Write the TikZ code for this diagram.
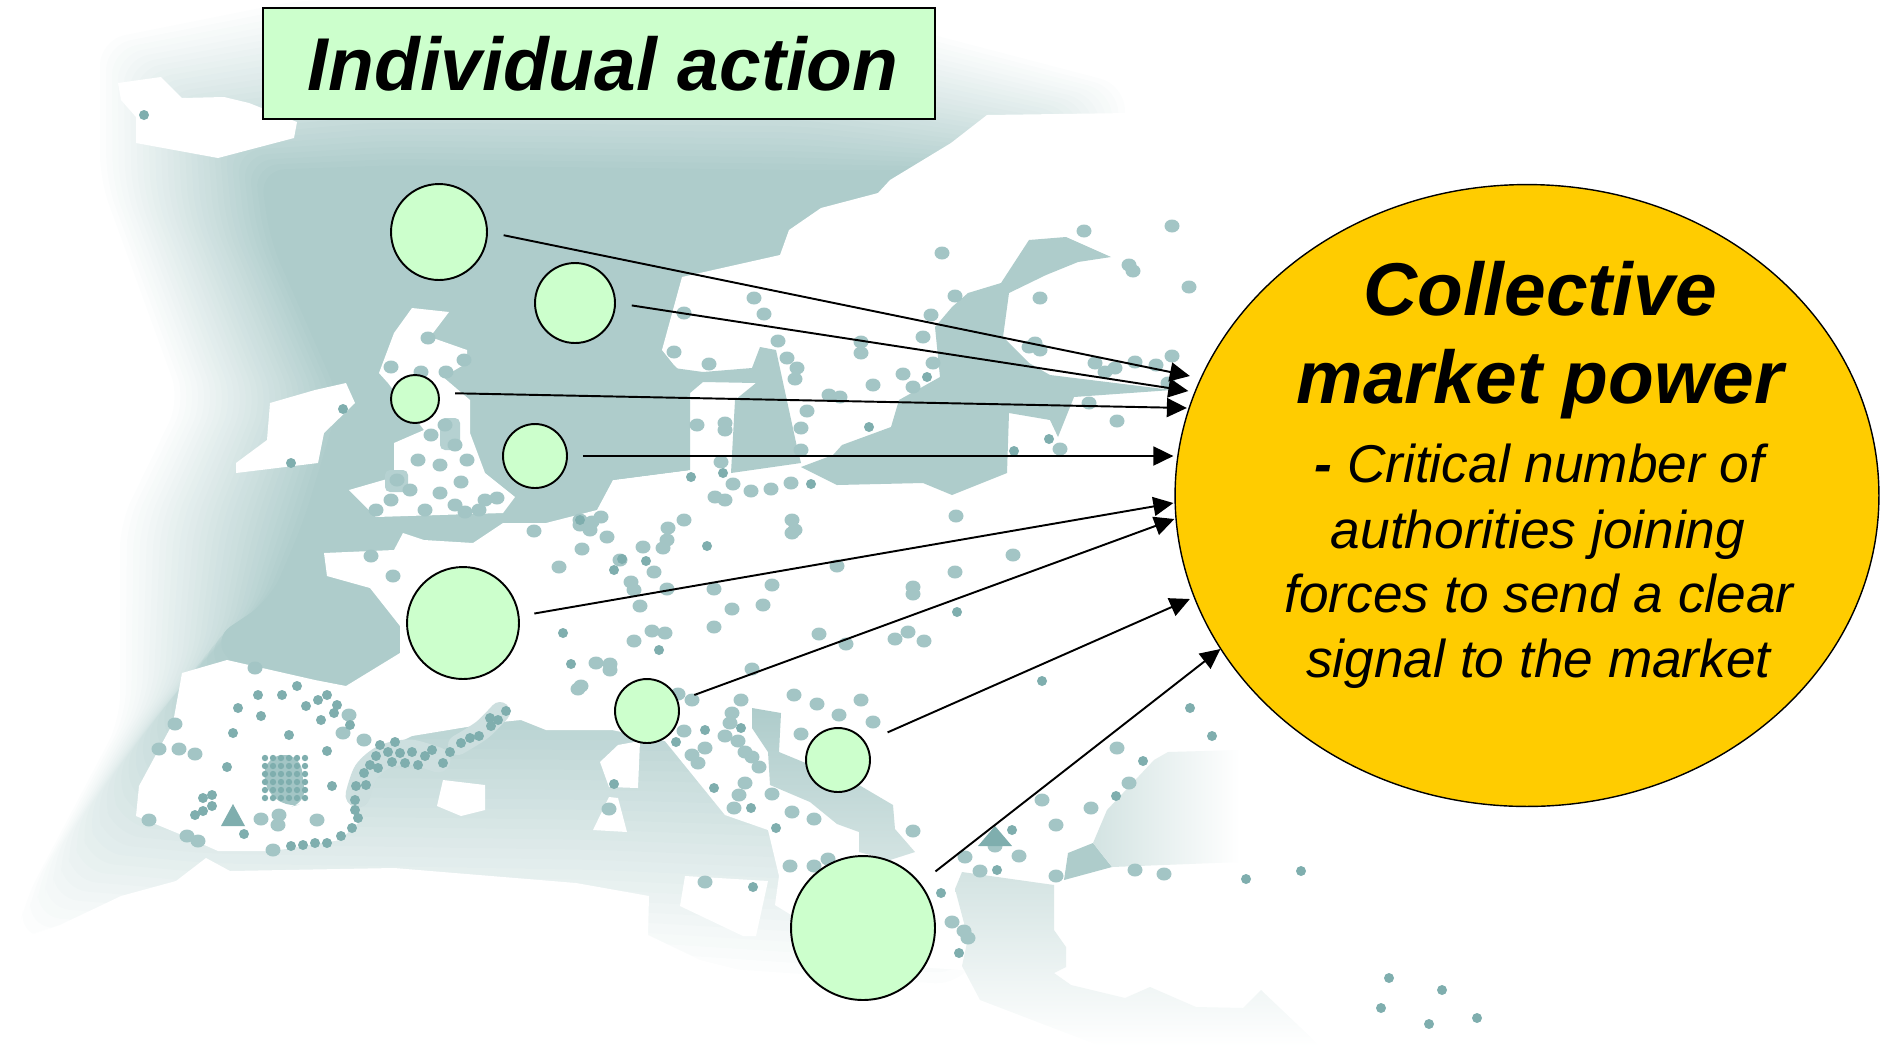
\documentclass[tikz,border=0pt]{standalone}
\usepackage{fontspec}
\setmainfont{Liberation Sans}
\usetikzlibrary{calc,positioning,shapes.geometric,arrows.meta}
\definecolor{seablue}{HTML}{AECCCB}
\definecolor{seapale}{HTML}{D3E3E2}
\definecolor{dotlight}{HTML}{A3C5C5}
\definecolor{dotdark}{HTML}{7FAEAE}
\definecolor{palegreen}{HTML}{CCFFCC}
\definecolor{marketgold}{HTML}{FFCC00}
\tikzset{
  land/.style={fill=white},
  authority/.style={circle,draw=black,line width=1.1pt,fill=palegreen,inner sep=0pt},
  pull/.style={draw=black,line width=1.1pt,-{Triangle[length=0.4cm,width=0.38cm]}},
  headtext/.style={font=\fontsize{42.6}{50}\selectfont\bfseries\itshape,anchor=base,inner sep=0pt},
  bodytext/.style={font=\fontsize{30.3}{36}\selectfont\itshape,anchor=base,inner sep=0pt}
}
\begin{document}
\begin{tikzpicture}[x=0.02cm,y=-0.02cm]
       \useasboundingbox (0,0) rectangle (1902,1046);
       % sea, outer contour to inner contour
       \foreach \n/\ox/\oy/\ix/\iy in {1/100/40/260/170,2/300/0/400/165,3/800/0/800/170,4/1125/85/950/170,5/1125/300/950/300,
         6/1125/700/950/700,7/960/985/960/690,8/600/960/600/690,9/210/950/210/690,10/18/935/260/690,11/25/900/210/640,
         12/120/720/270/600,13/120/523/303/523,14/180/400/340/400,15/100/180/270/240}{
         \coordinate (o\n) at (\ox,\oy);
         \coordinate (i\n) at (\ix,\iy);
       }
       \foreach \k in {1,...,28}{
         \pgfmathsetmacro\lerp{(\k-1)/27}
         \pgfmathsetmacro\alp{1/(29-\k)}
         \fill[seablue,opacity=\alp,rounded corners=0.5cm] ($(o1)!\lerp!(i1)$) \foreach \n in {2,...,15}{ -- ($(o\n)!\lerp!(i\n)$) } -- cycle;
       }
       % land
       \fill[land] (118,83) -- (161,77) -- (182,98) -- (224,97) -- (249,103) -- (297,122) -- (294,138) -- (218,158) -- (136,143) -- (136,117) -- (121,100) -- cycle;
       \fill[land] (270,403) -- (315,390) -- (346,383) -- (355,403) -- (324,433) -- (318,463) -- (236,473) -- (236,463) -- (267,440) -- cycle;
       \fill[land] (412,308) -- (449,312) -- (430,337) -- (467,350) -- (467,363) -- (443,377) -- (470,400) -- (470,433) -- (485,473) -- (515,497) -- (503,513) -- (376,517) -- (349,490) -- (394,477) -- (394,443) -- (424,430) -- (388,383) -- (379,373) -- (394,333) -- cycle;
       \fill[land] (1130,113) -- (987,115) -- (951,143) -- (890,180) -- (878,193) -- (821,208) -- (789,230) -- (780,255) -- (682,277) -- (662,350) -- (674,365) -- (690,380) -- (690,470)
         -- (613,480) -- (597,510) -- (546,523) -- (503,523) -- (473,543) -- (424,540) -- (403,533) -- (394,550) -- (324,553) -- (327,576) -- (370,588) -- (400,626) -- (400,653)
         -- (346,686) -- (315,680) -- (227,660) -- (182,673) -- (173,723) -- (139,786) -- (136,816) -- (182,835) -- (218,851) -- (273,851) -- (340,840) -- (358,823) -- (358,783)
         -- (376,753) -- (412,736) -- (491,723) -- (521,720) -- (546,730) -- (612,730) -- (665,741) -- (725,815) -- (768,830) -- (779,876) -- (775,905) -- (840,945) -- (890,965)
         -- (962,970) -- (1070,990) -- (1125,1000) -- (1150,989) -- (1196,1009) -- (1243,1010) -- (1270,985) -- (1300,800) -- (1300,113) -- cycle;
       \fill[land] (618,745) -- (640,741) -- (638,788) -- (609,787) -- (600,762) -- cycle;
       \fill[land] (609,797) -- (618,798) -- (627,832) -- (593,830) -- cycle;
       \fill[land] (443,780) -- (485,785) -- (485,810) -- (461,816) -- (437,806) -- cycle;
       \fill[land] (206,858) -- (230,871) -- (394,868) -- (576,883) -- (649,896) -- (648,935) -- (700,960) -- (860,1000) -- (860,1046) -- (0,1046) -- (0,945) -- (60,925) -- (121,896) -- (176,881) -- cycle;
       \fill[land] (685,876) -- (768,881) -- (756,936) -- (743,936) -- (680,906) -- cycle;
       % inland seas
       \fill[seablue] (690,470) -- (613,480) -- (674,368) -- (703,372) -- (752,368) -- (760,347) -- (776,350) -- (797,447) -- (801,463) -- (731,473) -- (735,400) -- (756,383) -- (703,382) -- (690,393) -- cycle;
       \fill[seablue] (1029,240) -- (1066,237) -- (1111,257) -- (1078,262) -- (1046,275) -- (1009,293) -- (1003,337) -- (1029,363) -- (1050,375) -- (1172,390) -- (1074,397) -- (1058,437) -- (1050,420)
         -- (1009,413) -- (1007,473) -- (952,495) -- (923,483) -- (837,485) -- (801,467) -- (833,455) -- (842,445) -- (891,427) -- (899,400) -- (940,377) -- (935,327) -- (952,307) -- (968,293) -- (1001,283) -- cycle;
       \shade[top color=seablue,bottom color=seapale] (752,708) -- (781,713) -- (779,752) -- (859,785) -- (893,805) -- (895,829) -- (915,852) -- (890,860) -- (859,852) -- (859,832) -- (837,824) -- (810,802) -- (770,785) -- (768,752) -- (752,728) -- cycle;
       \shade[top color=seapale,bottom color=white] (962,872) -- (1054,885) -- (1054,930) -- (1066,947) -- (1066,967) -- (1054,973) -- (1071,985) -- (1125,998) -- (1150,987) -- (1196,1007) -- (1243,1008) -- (1261,990) -- (1320,1046) -- (1100,1046) -- (980,1000) -- (962,966) -- (968,938) -- (955,889) -- cycle;
       \fill[seablue] (1068,853) -- (1093,843) -- (1112,867) -- (1064,880) -- cycle;
       \shade[left color=seapale,right color=white] (1093,843) -- (1107,810) -- (1154,760) -- (1168,752) -- (1240,750) -- (1240,862) -- (1112,867) -- cycle;
       % towns
       \draw[dotlight!55,line width=0.5cm,line cap=round] plot[smooth] coordinates {(358,795) (366,772) (384,757) (410,752) (438,760)};
       \draw[dotlight!55,line width=0.4cm,line cap=round] plot[smooth] coordinates {(458,745) (482,730) (500,712)};
       \fill[dotlight!80,rounded corners=0.1cm] (440,418) rectangle (460,450);
       \fill[dotlight!80,rounded corners=0.1cm] (385,470) rectangle (408,492);
       \foreach \x/\y in {684/313,674/352,709/364,754/298,764/314,778/341,787/358,797/368,795/379,861/342,861/353,923/337,931/315,955/296,942/253,1084/231,1172/226,1129/265,1133/271,1189/287,1040/298,1029/347,1040/350,1035/343,
         1095/363,1105/372,1115/368,1135/362,1156/365,1172/356,1168/383,1089/403,1117/421,1060/449,933/363,903/374,913/387,873/385,829/395,840/397,807/411,801/428,801/450,
         697/425,725/423,725/430,721/462,733/484,751/491,771/489,791/483,715/497,725/500,956/516,684/520,668/528,601/517,592/522,580/520,590/530,792/520,795/530,792/533,580/525,607/537,667/540,663/548,582/549,643/547,
         620/560,654/572,631/582,634/590,667/589,714/589,772/585,837/566,955/572,913/587,913/594,1013/555,640/606,732/609,763/605,652/631,665/633,714/627,634/641,819/634,895/639,908/632,924/641,846/644,
         596/663,610/664,610/670,752/669,578/689,581/686,678/694,692/700,741/700,794/695,817/704,861/700,732/713,839/715,873/722,730/723,684/731,801/734,725/736,738/741,705/748,745/752,692/755,752/757,698/763,759/767,
         1117/748,1129/783,1042/800,1091/808,1056/825,609/809,745/783,739/795,772/794,734/808,792/812,814/819,913/831,995/846,965/857,1019/856,980/871,790/866,814/866,828/859,1056/876,1135/870,1164/874,705/882,
         952/922,964/931,968/938,
         371/556,393/576,255/668,534/531,559/567,
         175/724,349/715,343/733,364/740,159/749,179/749,195/754,149/820,187/836,198/841,273/850,279/815,261/819,278/825,317/820,
         428/338,464/360,391/367,421/372,446/372,431/435,418/460,467/460,461/482,376/510,440/493,485/500,497/498,479/510,397/480,410/490,440/465,455/445,445/425,
         391/500,425/510,455/505,465/512}{
         \fill[dotlight] (\x,\y) circle[x radius=7.5,y radius=6.5];
       }
       \foreach \x/\y in {723/473,691/477,811/484,622/559,646/561,614/570,659/650,571/664,563/633,707/546,957/612,705/730,741/728,676/742,714/788,751/808,776/828,869/427,927/377,1014/451,1049/439,
         1190/708,1212/736,1143/761,1116/796,1012/830,997/870,941/893,959/953,1246/879,1301/871,1389/978,1442/990,1381/1008,1429/1024,1477/1018,1042/681,144/115,343/409,291/463,753/887,614/784,
         258/695,282/695,297/686,238/708,306/706,261/716,289/735,233/733,318/700,327/695,337/705,334/713,321/720,350/725,327/751,227/767,332/786,356/786,244/834,
         291/846,303/845,315/843,327/843,341/836,352/828,358/818,355/810,355/800,364/773,370/765,376/756,388/752,400/753,412/752,425/756,443/763,461/743,470/738,479/736,491/726,506/711,380/745,395/742,
         366/785,378/768,392/762,405/763,418/765,432/750,450/752,490/718,498/720,
         212/795,203/798,212/806,203/811,195/815,580/520}{
         \fill[dotdark] (\x,\y) circle[radius=5];
       }
       \fill[dotlight,rounded corners=0.3cm] (268,755) -- (300,755) -- (306,803) -- (285,808) -- (262,785) -- cycle;
       \foreach \x in {265,273,...,305}{
         \foreach \y in {758,766,...,802}{
           \fill[dotdark] (\x,\y) circle[radius=3.2];
         }
       }
       \fill[dotdark] (233,804) -- (245,826) -- (221,826) -- cycle;
       \fill[dotdark] (995,826) -- (1012,846) -- (978,846) -- cycle;
       % diagram
       \node[draw=black,line width=1.1pt,fill=palegreen,minimum width=13.44cm,minimum height=2.22cm,inner sep=0pt,font=\fontsize{42.6}{50}\selectfont\bfseries\itshape] (actionbox) at (599,63.5) {\hspace*{0.16cm}Individual action};
       \node[authority,minimum size=1.92cm] (nation1) at (439,232) {};
       \node[authority,minimum size=1.6cm] (nation2) at (575,303) {};
       \node[authority,minimum size=0.96cm] (nation3) at (415,399) {};
       \node[authority,minimum size=1.28cm] (nation4) at (535,456) {};
       \node[authority,minimum size=2.24cm] (nation5) at (463,623) {};
       \node[authority,minimum size=1.28cm] (nation6) at (647,711) {};
       \node[authority,minimum size=1.28cm] (nation7) at (838,760) {};
       \node[authority,minimum size=2.88cm] (nation8) at (863,928) {};
       \node[ellipse,draw=black,line width=0.8pt,fill=marketgold,minimum width=14.08cm,minimum height=12.44cm,inner sep=0pt] (market) at (1527,495.5) {};
       \draw[pull,shorten <=0.32cm] (nation1.0) -- ($(market.west)+(15.5,-119.5)$);
       \draw[pull,shorten <=0.32cm] (nation2.0) -- ($(market.west)+(14,-104.5)$);
       \draw[pull,shorten <=0.32cm] (nation3.14) -- ($(market.west)+(12.5,-87.5)$);
       \draw[pull,shorten <=0.3cm] (nation4.0) -- ($(market.west)+(-1,-39.5)$);
       \draw[pull,shorten <=0.3cm] (nation5.7) -- ($(market.west)+(-1,7.5)$);
       \draw[pull,shorten <=0.34cm] (nation6.18) -- ($(market.west)+(0,23.5)$);
       \draw[pull,shorten <=0.48cm] (nation7.33) -- ($(market.west)+(15.5,103.5)$);
       \draw[pull,shorten <=0.38cm] (nation8.38) -- ($(market.west)+(46,153.5)$);
       \node[headtext] (title1) at (1540,315) {Collective};
       \node[headtext] (title2) at (1540,403) {market power};
       \node[bodytext] (line1) at (1539.5,482) {{\bfseries -} Critical number of};
       \node[bodytext] (line2) at (1538,548) {authorities joining};
       \node[bodytext] (line3) at (1539,612) {forces to send a clear};
       \node[bodytext] (line4) at (1538.5,677) {signal to the market};
     \end{tikzpicture}
\end{document}
